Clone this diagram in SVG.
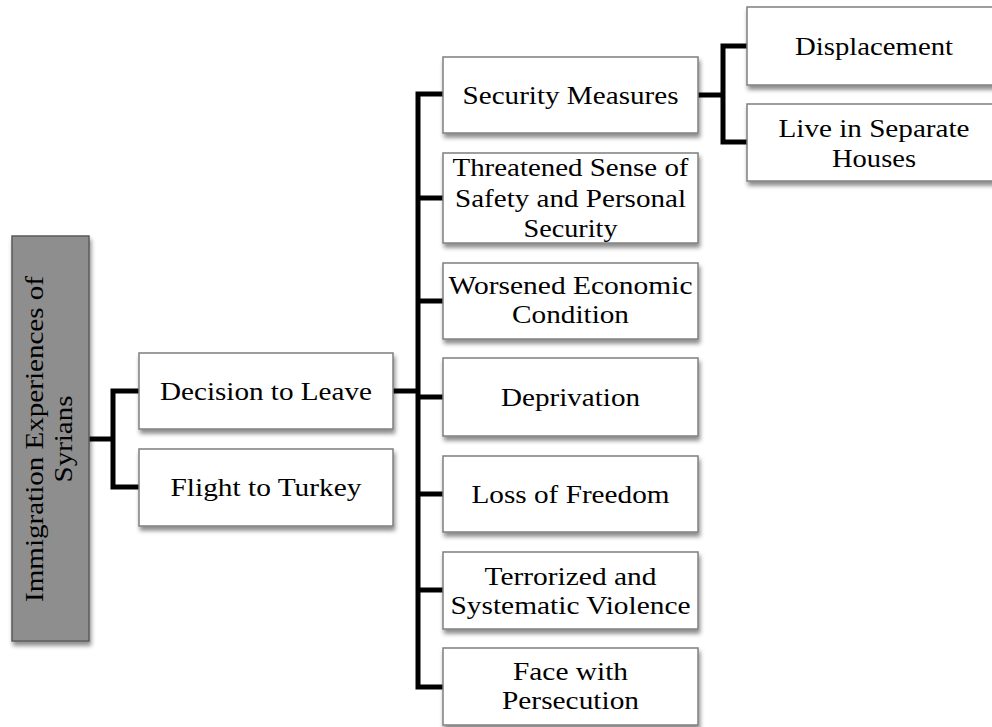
<svg xmlns="http://www.w3.org/2000/svg" width="992" height="727" viewBox="0 0 992 727">
  <defs>
    <filter id="shadow" x="-10%" y="-10%" width="130%" height="140%">
      <feDropShadow dx="1.5" dy="4" stdDeviation="2" flood-color="#000" flood-opacity="0.45"/>
    </filter>
  </defs>
  <style>
    .box { fill: #ffffff; stroke: #7f7f7f; stroke-width: 1.5; filter: url(#shadow); }
    .root { fill: #8e8e8e; stroke: #5a5a5a; stroke-width: 1.5; filter: url(#shadow); }
    .lbl { font-family: "Liberation Serif", "Times New Roman", serif; font-size: 26px; fill: #000; text-anchor: middle; }
    .wire { fill: none; stroke: #000; stroke-width: 5; stroke-linejoin: miter; stroke-linecap: butt; }
  </style>
  <rect width="992" height="727" fill="#ffffff"/>

  <!-- connectors -->
  <g id="connectors">
    <path class="wire" d="M89,439 H113"/>
    <path class="wire" d="M139,391 H113 V487 H139"/>
    <path class="wire" d="M393,391 H418"/>
    <path class="wire" d="M443,94 H418 V687 H443"/>
    <path class="wire" d="M418,198 H443 M418,301 H443 M418,397 H443 M418,494 H443 M418,590 H443"/>
    <path class="wire" d="M698,95 H723"/>
    <path class="wire" d="M747,46 H723 V142 H747"/>
  </g>

  <!-- root -->
  <g id="root">
    <rect class="root" x="12" y="236" width="77" height="405"/>
    <g transform="translate(50,439) rotate(-90)">
      <text class="lbl" x="0" y="-7" textLength="326" lengthAdjust="spacingAndGlyphs">Immigration Experiences of</text>
      <text class="lbl" x="0" y="22" textLength="87" lengthAdjust="spacingAndGlyphs">Syrians</text>
    </g>
  </g>

  <!-- second level -->
  <g id="decision">
    <rect class="box" x="139" y="353" width="254" height="76"/>
    <text class="lbl" x="266" y="400" textLength="212" lengthAdjust="spacingAndGlyphs">Decision to Leave</text>
  </g>
  <g id="flight">
    <rect class="box" x="139" y="449" width="254" height="77"/>
    <text class="lbl" x="266" y="496" textLength="191" lengthAdjust="spacingAndGlyphs">Flight to Turkey</text>
  </g>

  <!-- reasons for leaving -->
  <g id="security">
    <rect class="box" x="443" y="57" width="255" height="76"/>
    <text class="lbl" x="570.5" y="104" textLength="216" lengthAdjust="spacingAndGlyphs">Security Measures</text>
  </g>
  <g id="threatened">
    <rect class="box" x="443" y="153" width="255" height="90"/>
    <text class="lbl" x="570.5" y="176" textLength="236" lengthAdjust="spacingAndGlyphs">Threatened Sense of</text>
    <text class="lbl" x="570.5" y="207" textLength="231" lengthAdjust="spacingAndGlyphs">Safety and Personal</text>
    <text class="lbl" x="570.5" y="237" textLength="94" lengthAdjust="spacingAndGlyphs">Security</text>
  </g>
  <g id="economic">
    <rect class="box" x="443" y="263" width="255" height="76"/>
    <text class="lbl" x="570.5" y="294" textLength="244" lengthAdjust="spacingAndGlyphs">Worsened Economic</text>
    <text class="lbl" x="570.5" y="323" textLength="117" lengthAdjust="spacingAndGlyphs">Condition</text>
  </g>
  <g id="deprivation">
    <rect class="box" x="443" y="358" width="255" height="78"/>
    <text class="lbl" x="570.5" y="406" textLength="139" lengthAdjust="spacingAndGlyphs">Deprivation</text>
  </g>
  <g id="freedom">
    <rect class="box" x="443" y="456" width="255" height="76"/>
    <text class="lbl" x="570.5" y="503" textLength="198" lengthAdjust="spacingAndGlyphs">Loss of Freedom</text>
  </g>
  <g id="violence">
    <rect class="box" x="443" y="552" width="255" height="77"/>
    <text class="lbl" x="570.5" y="585" textLength="172" lengthAdjust="spacingAndGlyphs">Terrorized and</text>
    <text class="lbl" x="570.5" y="614" textLength="240" lengthAdjust="spacingAndGlyphs">Systematic Violence</text>
  </g>
  <g id="persecution">
    <rect class="box" x="443" y="648" width="255" height="77"/>
    <text class="lbl" x="570.5" y="680" textLength="115" lengthAdjust="spacingAndGlyphs">Face with</text>
    <text class="lbl" x="570.5" y="709" textLength="137" lengthAdjust="spacingAndGlyphs">Persecution</text>
  </g>

  <!-- security measures detail -->
  <g id="displacement">
    <rect class="box" x="747" y="7" width="255" height="78"/>
    <text class="lbl" x="874" y="55" textLength="158" lengthAdjust="spacingAndGlyphs">Displacement</text>
  </g>
  <g id="separate">
    <rect class="box" x="747" y="104" width="255" height="77"/>
    <text class="lbl" x="874" y="137" textLength="191" lengthAdjust="spacingAndGlyphs">Live in Separate</text>
    <text class="lbl" x="874" y="167" textLength="84" lengthAdjust="spacingAndGlyphs">Houses</text>
  </g>
</svg>
